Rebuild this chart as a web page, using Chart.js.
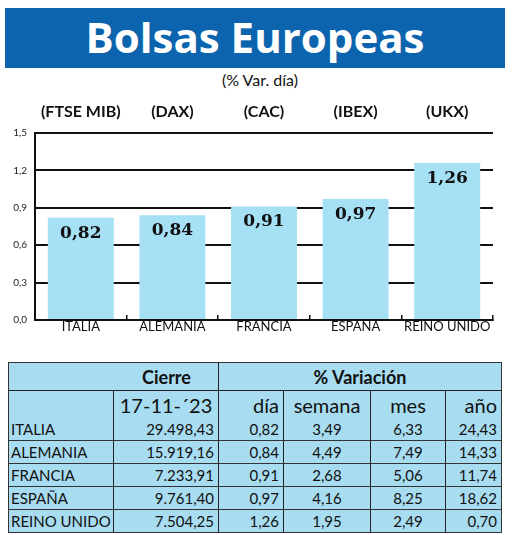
<!DOCTYPE html>
<html><head><meta charset="utf-8">
<script src="https://cdn.jsdelivr.net/npm/chart.js"></script>
<style>
body{margin:0;width:520px;height:535px;background:#fff;position:relative;font-family:Lato,sans-serif;overflow:hidden}
#banner{position:absolute;left:5px;top:8px;width:500px;height:60px;background:#0b64ad;color:#fff;font:bold 42px 'Open Sans',sans-serif;text-align:center;line-height:58px}
#sub{position:absolute;left:0;width:520px;top:70px;text-align:center;font-size:16px;color:#111}
#cw{position:absolute;left:0;top:95px;width:510px;height:255px}
table{position:absolute;left:8px;top:362px;width:494px;border-collapse:collapse;background:#a8dcf0;font-size:15px;color:#111;border:1.5px solid #333;table-layout:fixed}
td{padding:0 4px;height:22px;border-left:1px solid #222;border-bottom:1.5px solid #333;text-align:right;line-height:20px;white-space:nowrap;overflow:hidden}
td:first-child{text-align:left;border-left:none;padding-left:2px}
tr.h td{height:27px;font-weight:bold;text-align:center;font-size:18px;border-bottom:1px solid #222}
tr.h2 td{height:27px;font-size:20px;border-bottom:none}
</style></head><body>
<div id="banner">Bolsas Europeas</div>
<div id="sub">(% Var. día)</div>
<div id="cw"><canvas id="c" width="510" height="255"></canvas></div>
<table id="t"></table>
<script>
const countries=['ITALIA','ALEMANIA','FRANCIA','ESPAÑA','REINO UNIDO'];
const indices=['(FTSE MIB)','(DAX)','(CAC)','(IBEX)','(UKX)'];
const dayVar=[0.82,0.84,0.91,0.97,1.26];
const cierre=['29.498,43','15.919,16','7.233,91','9.761,40','7.504,25'];
const dia=['0,82','0,84','0,91','0,97','1,26'];
const semana=['3,49','4,49','2,68','4,16','1,95'];
const mes=['6,33','7,49','5,06','8,25','2,49'];
const anio=['24,43','14,33','11,74','18,62','0,70'];
const yTicks=[0,0.3,0.6,0.9,1.2,1.5];

let h='<colgroup><col style="width:105px"><col style="width:105px"><col style="width:65px"><col style="width:87px"><col style="width:75px"><col></colgroup>';
h+='<tr class="h"><td colspan="2" style="text-align:center;padding-left:110px">Cierre</td><td colspan="4">% Variación</td></tr>';
h+='<tr class="h2"><td></td><td style="text-align:center">17-11-´23</td><td>día</td><td style="text-align:center">semana</td><td style="text-align:center">mes</td><td>año</td></tr>';
countries.forEach((c,i)=>{h+=`<tr><td>${c}</td><td>${cierre[i]}</td><td>${dia[i]}</td><td style="text-align:center">${semana[i]}</td><td style="text-align:center">${mes[i]}</td><td>${anio[i]}</td></tr>`});
document.getElementById('t').innerHTML=h;

const labelsPlugin={id:'lbl',afterDatasetsDraw(ch){
 const ctx=ch.ctx,x=ch.scales.x,meta=ch.getDatasetMeta(0);
 ctx.save();ctx.textAlign='center';
 ctx.fillStyle='#111';ctx.font="bold 16px Lato,sans-serif";ctx.textBaseline='middle';
 indices.forEach((t,i)=>ctx.fillText(t,x.getPixelForValue(i),17));
 ctx.font="bold 17px 'DejaVu Serif',serif";ctx.textBaseline='top';
 meta.data.forEach((b,i)=>ctx.fillText(dayVar[i].toFixed(2).replace('.',','),b.x,b.y+7));
 ctx.restore();}};

new Chart(document.getElementById('c'),{type:'bar',
 data:{labels:countries,datasets:[{data:dayVar,backgroundColor:'#a6e0f5',barPercentage:0.72,categoryPercentage:1}]},
 options:{responsive:false,animation:false,events:[],
  layout:{padding:{top:38,right:17,left:0,bottom:0}},
  plugins:{legend:{display:false},tooltip:{enabled:false}},
  scales:{
   y:{min:0,max:1.5,afterBuildTicks:a=>{a.ticks=yTicks.map(v=>({value:v}))},afterFit:a=>{a.width=35},
    grid:{color:'#111',lineWidth:2,drawTicks:false,z:-1},border:{color:'#111',width:2},
    ticks:{padding:8,color:'#222',font:{size:10,family:'Lato'},callback:v=>v.toFixed(1).replace('.',',')}},
   x:{afterFit:a=>{a.height=30},grid:{display:true,offset:true,drawOnChartArea:false,color:'#111',tickLength:-5,lineWidth:1.5},border:{color:'#111',width:2},
    ticks:{color:'#111',padding:4,maxRotation:0,autoSkip:false,font:{size:13,family:'Lato'}}}}},
 plugins:[labelsPlugin]});
</script></body></html>
